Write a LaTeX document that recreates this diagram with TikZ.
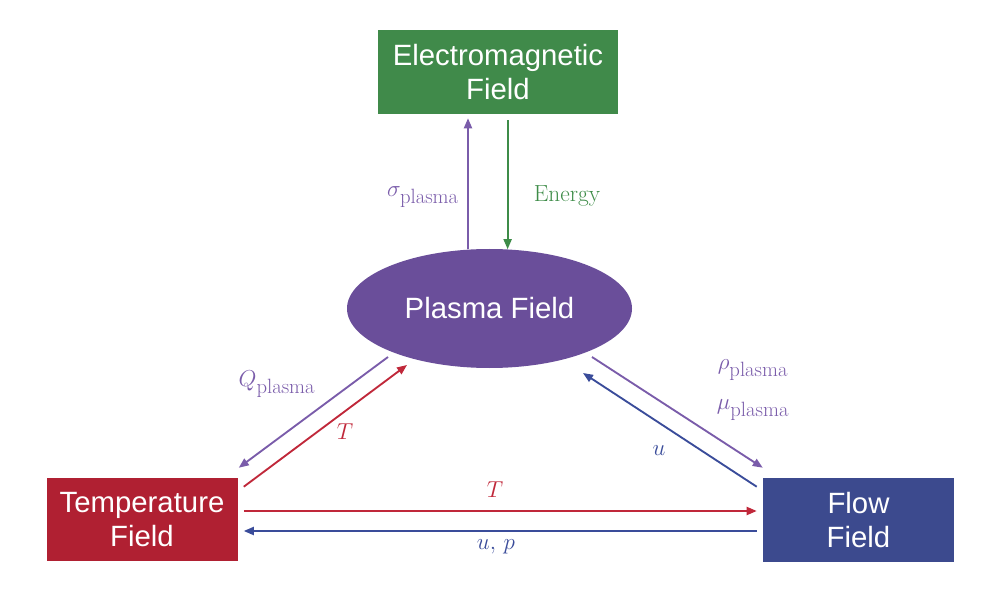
\documentclass[tikz,border=0pt]{standalone}
\usepackage{fontspec}
\setsansfont{Liberation Sans}
\usetikzlibrary{arrows.meta,shapes.geometric,calc}
\DeclareMathSizes{18}{18}{15.5}{11}
\definecolor{emgreen}{RGB}{64,138,74}
\definecolor{tred}{RGB}{176,32,50}
\definecolor{fblue}{RGB}{60,74,142}
\definecolor{ppurple}{RGB}{106,78,154}
\definecolor{lpurple}{RGB}{122,92,170}
\definecolor{ared}{RGB}{192,40,58}
\definecolor{ablue}{RGB}{58,76,154}
\definecolor{agreen}{RGB}{62,140,72}
\begin{document}
\begin{tikzpicture}[x=0.75pt,y=-0.75pt,
  box/.style={rectangle, draw=none, text=white, align=center,
    font=\sffamily\fontsize{22}{26}\selectfont, inner sep=0pt},
  conn/.style={line width=1.4pt, -{Triangle[length=7.5pt,width=6pt]}},
  lbl/.style={font=\fontsize{18}{21}\selectfont, inner sep=0pt}]
\useasboundingbox (0,0) rectangle (996,602);
\node[box, fill=emgreen, minimum width=180pt, minimum height=63pt] (em) at (498,72) {Electromagnetic\\Field};
\node[ellipse, fill=ppurple, text=white, minimum width=213.75pt, minimum height=89.25pt, inner sep=0pt,
  font=\sffamily\fontsize{22}{26}\selectfont] (plasma) at (489.5,308.5) {Plasma Field};
\node[box, fill=tred, minimum width=143.25pt, minimum height=62.25pt] (temp) at (142,519.5) {Temperature\\Field};
\node[box, fill=fblue, minimum width=143.25pt, minimum height=63pt] (flow) at (858.5,520) {Flow\\Field};

% Plasma <-> EM
\draw[conn, lpurple, shorten >=3pt] (plasma.110) -- (plasma.110 |- em.south);
\draw[conn, agreen, shorten <=4.5pt] (plasma.73.5 |- em.south) -- (plasma.73.5);
% Plasma <-> Temperature
\draw[conn, lpurple] ($(plasma.center)+(-101.5,48.5)$) -- ($(temp.north east)+(1,-10)$);
\draw[conn, ared] ($(temp.north east)+(6,9)$) -- ($(plasma.center)+(-82.5,56.5)$);
% Plasma <-> Flow
\draw[conn, lpurple] ($(plasma.center)+(102.5,48.5)$) -- ($(flow.north west)+(0,-10)$);
\draw[conn, ablue] ($(flow.north west)+(-6,9)$) -- ($(plasma.center)+(93.5,64.5)$);
% Temperature <-> Flow
\draw[conn, ared] ($(temp.east)+(6,-8.5)$) -- ($(flow.west)+(-6,-9)$);
\draw[conn, ablue] ($(flow.west)+(-6,11)$) -- ($(temp.east)+(6,11.5)$);

% labels
\node[lbl, text=lpurple] (lsig) at (423,197) {$\sigma_{\mathrm{plasma}}$};
\node[lbl, text=agreen, font=\fontsize{17.5}{21}\selectfont] (len) at (567,196) {Energy};
\node[lbl, text=lpurple] (lq) at (277,384) {$Q_{\mathrm{plasma}}$};
\node[lbl, text=ared] (lt1) at (345,432) {$T$};
\node[lbl, text=lpurple] (lrho) at (753,370) {$\rho_{\mathrm{plasma}}$};
\node[lbl, text=lpurple] (lmu) at (753,410) {$\mu_{\mathrm{plasma}}$};
\node[lbl, text=ablue] (lu) at (659,451) {$u$};
\node[lbl, text=ared] (lt2) at (495,490) {$T$};
\node[lbl, text=ablue] (lup) at (496,547) {$u,\,p$};
\end{tikzpicture}
\end{document}
